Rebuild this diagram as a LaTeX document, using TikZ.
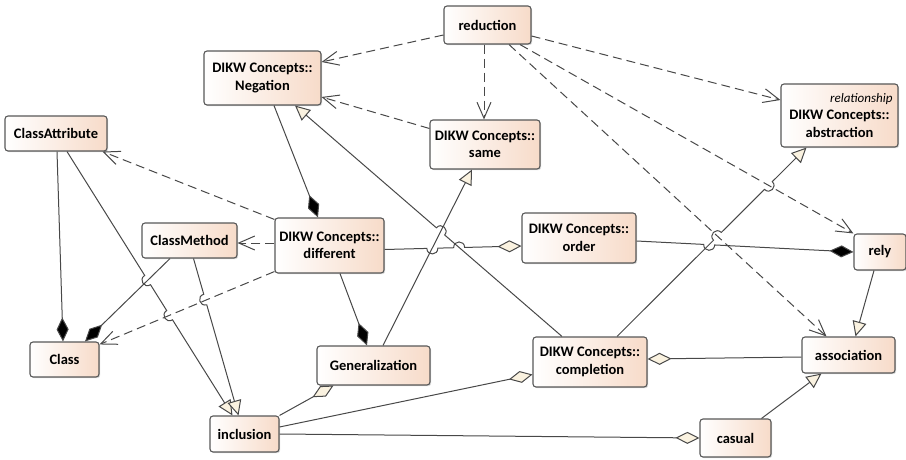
\documentclass[tikz,border=0pt]{standalone}
\usepackage{fontspec}
\setmainfont{Carlito}
\usetikzlibrary{arrows.meta,calc,shadows}
\definecolor{peach}{RGB}{247,219,201}
\definecolor{edgegray}{RGB}{72,72,72}
\definecolor{framegray}{RGB}{88,88,88}
\definecolor{tipfill}{RGB}{250,242,224}

\begin{document}
\begin{tikzpicture}[x=1pt,y=-1pt,
  umlbox/.style={draw=framegray, line width=1.1pt, rounded corners=3pt,
    left color=white, right color=peach, align=center, inner sep=0pt,
    font=\bfseries\fontsize{14.5}{17.5}\selectfont,
    drop shadow={shadow xshift=1.2pt, shadow yshift=-1.2pt, opacity=0.3}},
  link/.style={draw=edgegray, line width=1pt},
  dep/.style={link, dash pattern=on 9pt off 5pt,
    -{Straight Barb[length=16pt,width=14pt]}},
  genl/.style={link, -{Triangle[length=15pt,width=14pt,fill=tipfill]}},
  compo/.style={link, -{Diamond[length=24pt,width=12pt,fill=black]}},
  aggr/.style={link, -{Diamond[length=24pt,width=12pt,fill=tipfill]}},
  hop/.style n args={4}{insert path={
    -- ($(#1)!#3!(#2)!5.5pt!(#1)$)
    to[bend #4=90, looseness=1.75] ($(#1)!#3!(#2)!5.5pt!(#2)$)}}
]
\useasboundingbox (0,0) rectangle (906,460);

% ---- classes ----
\node[umlbox, minimum width=87pt,  minimum height=38pt] (red)   at (487.5,25)  {reduction};
\node[umlbox, minimum width=117pt, minimum height=54pt] (neg)   at (262.5,78)  {DIKW Concepts::\\Negation};
\node[umlbox, minimum width=102pt, minimum height=35pt] (cattr) at (56,133.5)  {ClassAttribute};
\node[umlbox, minimum width=110pt, minimum height=49pt] (same)  at (485,144.5) {DIKW Concepts::\\same};
\node[umlbox, minimum width=117pt, minimum height=63pt] (abs)   at (839.5,115.5)
  {\makebox[106pt][r]{\mdseries\itshape\fontsize{13}{15}\selectfont relationship}\\DIKW Concepts::\\abstraction};
\node[umlbox, minimum width=109pt, minimum height=55pt] (diff)  at (329.5,245.5) {DIKW Concepts::\\different};
\node[umlbox, minimum width=95pt,  minimum height=35pt] (cmeth) at (189.5,240.5) {ClassMethod};
\node[umlbox, minimum width=114pt, minimum height=50pt] (order) at (579,238)   {DIKW Concepts::\\order};
\node[umlbox, minimum width=52pt,  minimum height=36pt] (rely)  at (880,252)   {rely};
\node[umlbox, minimum width=69pt,  minimum height=35pt] (cls)   at (64.5,359.5) {Class};
\node[umlbox, minimum width=113pt, minimum height=39pt] (gen)   at (373.5,365.5) {Generalization};
\node[umlbox, minimum width=114pt, minimum height=50pt] (comp)  at (590,362)   {DIKW Concepts::\\completion};
\node[umlbox, minimum width=93pt,  minimum height=36pt] (assoc) at (848.5,355) {association};
\node[umlbox, minimum width=69pt,  minimum height=36pt] (incl)  at (244.5,434) {inclusion};
\node[umlbox, minimum width=71pt,  minimum height=38pt] (cas)   at (735.5,438) {casual};

% ---- dependencies ----
\draw[dep] ([yshift=-10pt]red.west) -- ([yshift=16pt]neg.east);
\draw[dep] ([xshift=-3.5pt]red.south) -- ([xshift=-1pt]same.north);
\draw[dep] ([yshift=-11pt]red.east) -- ([yshift=15.5pt]abs.west);
\draw[dep] ([xshift=32.5pt]red.south) -- (rely.north west);
\draw[dep] ([xshift=21.5pt]red.south) -- ([xshift=-22pt]assoc.north);
\draw[dep] ([yshift=16pt]same.west) -- ([yshift=-19pt]neg.east);
\draw[dep] ([yshift=-2pt]diff.north west) -- ([xshift=-5pt]cattr.south east);
\draw[dep] ([yshift=2.5pt]diff.west) -- ([yshift=-2.5pt]cmeth.east);
\draw[dep] ([yshift=2pt]diff.south west) -- ([yshift=-3pt]cls.north east);

% ---- compositions ----
\draw[compo] ([xshift=11.5pt]neg.south) -- ([xshift=-11.5pt]diff.north);
\draw[compo] ([xshift=10.5pt]diff.south) -- ([xshift=-6.5pt]gen.north);
\draw[compo] ([xshift=1pt]cattr.south) -- ([xshift=-1.5pt]cls.north);
\draw[compo] ([xshift=-19.5pt]cmeth.south) -- ([xshift=20.5pt]cls.north);

% ---- end points of lines that jump over others ----
\coordinate (ca1) at ([xshift=11pt]cattr.south);
\coordinate (ca2) at ([xshift=-12pt]incl.north);
\coordinate (cm1) at ([xshift=4pt]cmeth.south);
\coordinate (cm2) at ([xshift=-6pt]incl.north);
\coordinate (cn1) at ([xshift=-28pt]comp.north);
\coordinate (cn2) at ([xshift=32.5pt]neg.south);
\coordinate (cb1) at ([xshift=27pt]comp.north);
\coordinate (cb2) at ([xshift=-33pt]abs.south);
\coordinate (do1) at ([yshift=-4pt]diff.east);
\coordinate (do2) at ([yshift=-8pt]order.west);
\coordinate (or1) at ([yshift=-3pt]order.east);
\coordinate (or2) at (rely.west);

% ---- generalizations ----
\draw[genl] (ca1) [hop={ca1}{ca2}{0.487}{right}] [hop={ca1}{ca2}{0.62}{right}] -- (ca2);
\draw[genl] (cm1) [hop={cm1}{cm2}{0.261}{right}] -- (cm2);
\draw[genl] ([xshift=9.5pt]gen.north) -- ([xshift=-13pt]same.south);
\draw[genl] (cn1) [hop={cn1}{cn2}{0.455}{right}] -- (cn2);
\draw[genl] (cb1) [hop={cb1}{cb2}{0.53}{left}] [hop={cb1}{cb2}{0.799}{right}] -- (cb2);
\draw[genl] ([xshift=-6pt]rely.south) -- ([xshift=7pt]assoc.north);
\draw[genl] ([xshift=26pt]cas.north) -- ([xshift=-27pt]assoc.south);

% ---- aggregations and the rely composition ----
\draw[aggr] (do1) [hop={do1}{do2}{0.349}{right}] [hop={do1}{do2}{0.545}{left}] -- (do2);
\draw[compo] (or1) [hop={or1}{or2}{0.335}{right}] -- (or2);
\draw[aggr] ([yshift=-2pt]assoc.west) -- ([yshift=3pt]comp.east);
\draw[aggr] ([yshift=7pt]incl.east) -- ([yshift=-12.5pt]comp.west);
\draw[aggr] (incl.north east) -- ([xshift=-40pt]gen.south);
\draw[aggr] (incl.east) -- (cas.west);
\end{tikzpicture}
\end{document}
